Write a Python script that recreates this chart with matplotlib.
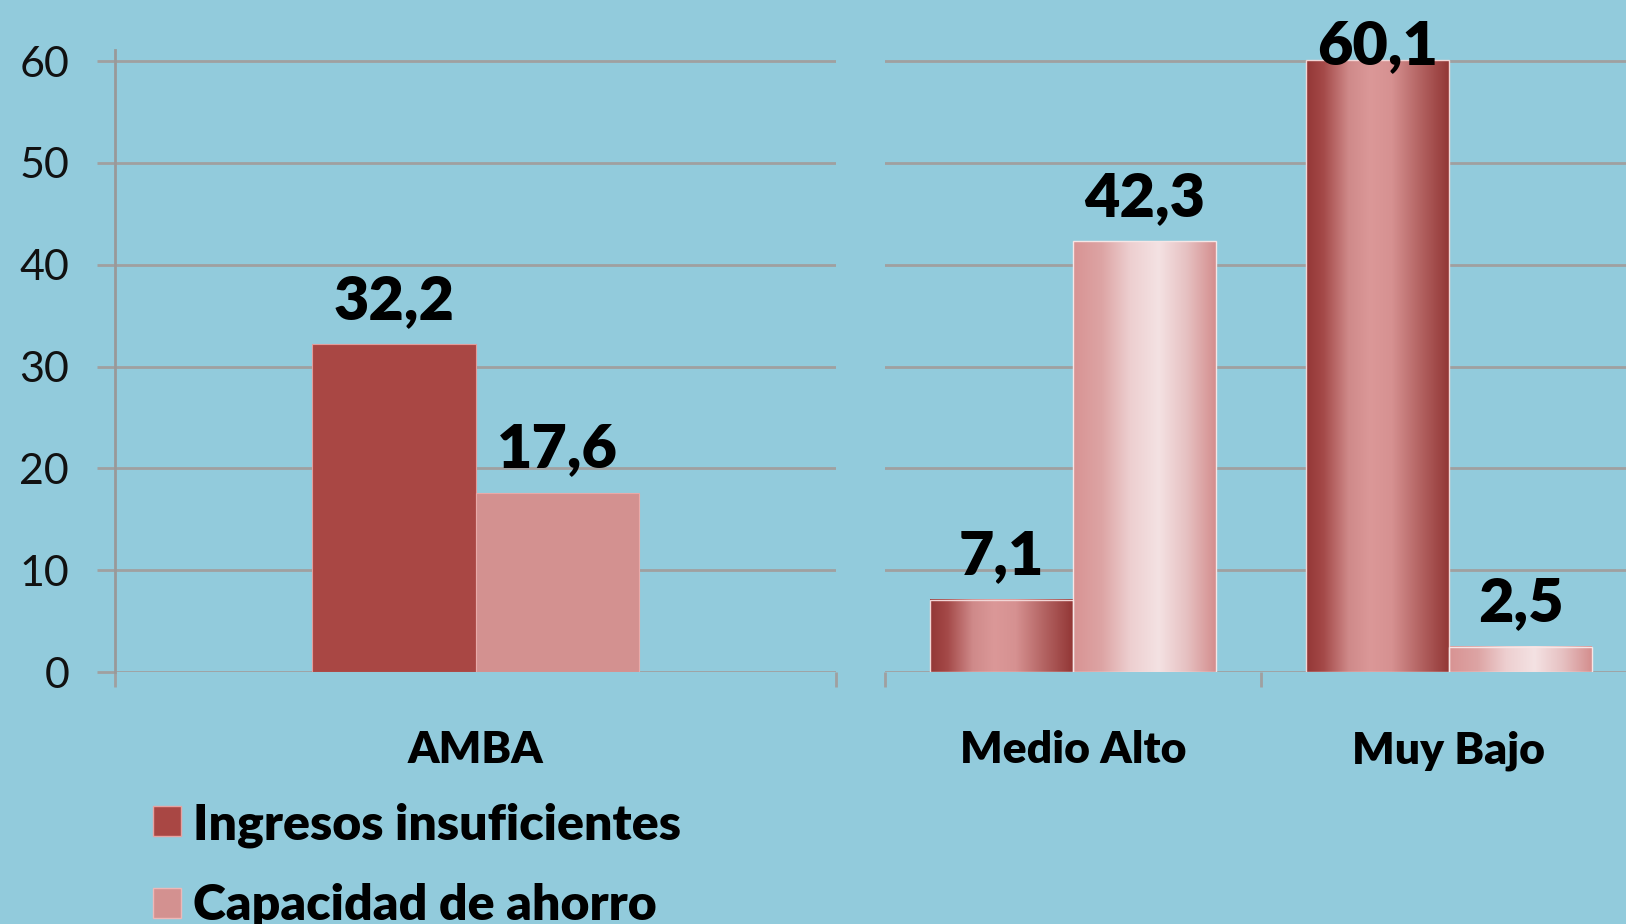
import matplotlib.pyplot as plt
import numpy as np
from matplotlib.colors import LinearSegmentedColormap
from matplotlib.patches import Patch

# data
series = ['Ingresos insuficientes', 'Capacidad de ahorro']
left_cats = ['AMBA']
left_ingresos = [32.2]
left_ahorro = [17.6]
right_cats = ['Medio Alto', 'Muy Bajo']
right_ingresos = [7.1, 60.1]
right_ahorro = [42.3, 2.5]
y_ticks = [0, 10, 20, 30, 40, 50, 60]

BG = '#92CBDC'
GRID = '#A0A0A0'
DARK = '#A94744'
LIGHT = '#D39190'

dark_cmap = LinearSegmentedColormap.from_list('dark', [
    (0.0, '#933736'), (0.12, '#A44948'), (0.3, '#CF8A8A'), (0.45, '#DB9898'),
    (0.6, '#D69191'), (0.8, '#B36362'), (1.0, '#933736')])
light_cmap = LinearSegmentedColormap.from_list('light', [
    (0.0, '#D89393'), (0.2, '#DDA4A4'), (0.4, '#EDCFD0'), (0.6, '#F4E2E3'),
    (0.8, '#E6C0C1'), (1.0, '#D48E8E')])

LABEL_FONT = dict(family='Lato', fontweight='heavy', fontsize=44, color='black')


def value_labels(ax, bars, values):
    for p, v in zip(bars, values):
        y = min(v + 2.5, 59.7)
        ax.text(p.get_x() + p.get_width() / 2, y, f'{v:.1f}'.replace('.', ','),
                ha='center', va='baseline', clip_on=False, zorder=6, **LABEL_FONT)


def shade(ax, bars, cmap):
    grad = np.linspace(0, 1, 256).reshape(1, -1)
    for p in bars:
        x0 = p.get_x()
        ax.imshow(grad, cmap=cmap, aspect='auto', zorder=2,
                  extent=(x0, x0 + p.get_width(), 0, p.get_height()))


def style_axis(ax, ncat):
    ax.set_facecolor('none')
    ax.set_ylim(0, 61.1)
    ax.set_xlim(-0.5, ncat - 0.5)
    ax.set_yticks(y_ticks)
    ax.grid(axis='y', color=GRID, linewidth=2.0, zorder=0)
    ax.set_axisbelow(True)
    for s in ['top', 'right', 'bottom']:
        ax.spines[s].set_visible(False)
    ax.set_xticks(range(ncat))
    ax.set_xticks(np.arange(-0.5, ncat, 1.0), minor=True)
    ax.tick_params(axis='x', which='major', length=0, pad=42)
    ax.tick_params(axis='x', which='minor', length=11, width=2, color=GRID,
                   direction='out')
    for lab in ax.get_xticklabels():
        lab.set_fontfamily('Lato')
        lab.set_fontweight('heavy')
        lab.set_fontsize(32)


fig = plt.figure(figsize=(16.26, 9.24), dpi=100)
fig.patch.set_facecolor(BG)

# left panel: AMBA, flat bars
ax1 = fig.add_axes([115 / 1626, 252 / 924, 721 / 1626, 622 / 924])
w1 = 0.227
x1 = np.arange(len(left_cats))
b1 = ax1.bar(x1 - w1 / 2, left_ingresos, w1, color=DARK, edgecolor='#E39C9B',
             linewidth=0.8, zorder=3)
b2 = ax1.bar(x1 + w1 / 2, left_ahorro, w1, color=LIGHT, edgecolor='#E8AAA9',
             linewidth=0.8, zorder=3)
style_axis(ax1, len(left_cats))
ax1.set_xticklabels(left_cats)
ax1.spines['left'].set_color('#999999')
ax1.spines['left'].set_linewidth(2)
ax1.spines['left'].set_bounds(0, 61.1)
ax1.tick_params(axis='y', length=13, width=2, color=GRID, pad=20,
                labelsize=31, labelcolor='#111111')
for lab in ax1.get_yticklabels():
    lab.set_fontfamily('Lato')
    lab.set_fontweight('normal')
value_labels(ax1, b1, left_ingresos)
value_labels(ax1, b2, left_ahorro)

# right panel: gradient bars
ax2 = fig.add_axes([885 / 1626, 252 / 924, 752 / 1626, 622 / 924])
w2 = 0.38
x2 = np.arange(len(right_cats))
c1 = ax2.bar(x2 - w2 / 2, right_ingresos, w2, facecolor='none',
             edgecolor='#F2D6D6', linewidth=1.0, zorder=3)
c2 = ax2.bar(x2 + w2 / 2, right_ahorro, w2, facecolor='none',
             edgecolor='#F6E6E6', linewidth=1.0, zorder=3)
shade(ax2, c1, dark_cmap)
shade(ax2, c2, light_cmap)
style_axis(ax2, len(right_cats))
ax2.set_xticklabels(right_cats)
ax2.spines['left'].set_visible(False)
ax2.tick_params(axis='y', length=0, labelleft=False)
value_labels(ax2, c1, right_ingresos)
value_labels(ax2, c2, right_ahorro)

handles = [Patch(facecolor=DARK, edgecolor='#E6A3A2', linewidth=1),
           Patch(facecolor=LIGHT, edgecolor='#EDB8B8', linewidth=1)]
fig.legend(handles, series, loc='upper left', bbox_to_anchor=(133 / 1626, 1 - 782 / 924),
           frameon=False, prop=dict(family='Lato', weight='heavy', size=36),
           handlelength=0.55, handleheight=0.55, handletextpad=0.25,
           labelspacing=0.72, borderaxespad=0)

fig.savefig('out.png', dpi=100, facecolor=BG)
